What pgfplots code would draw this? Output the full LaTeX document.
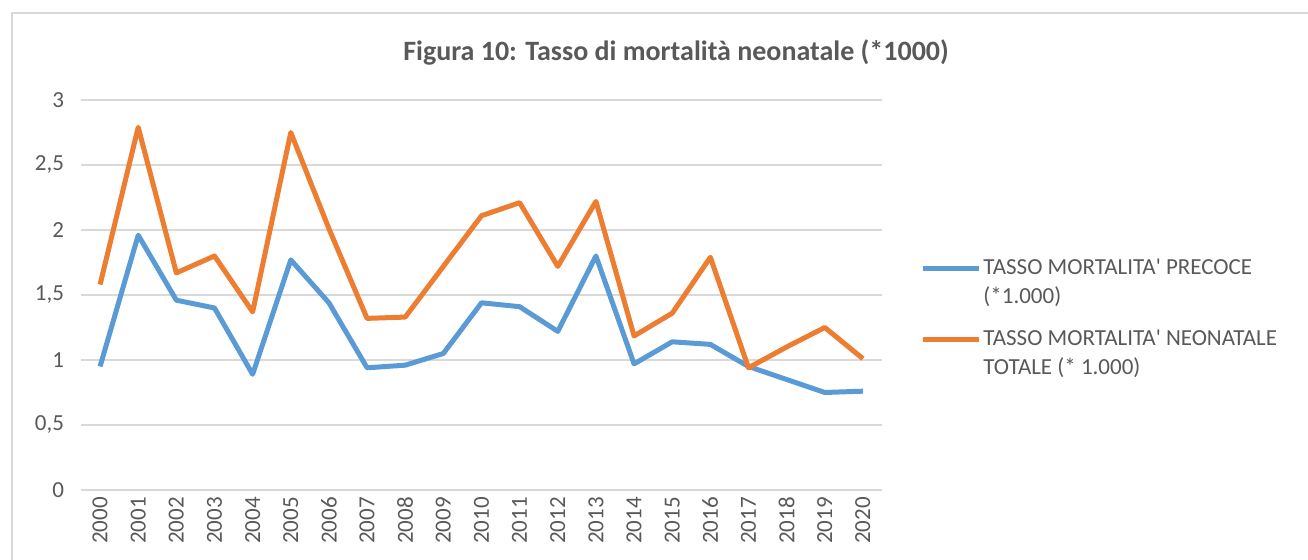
\documentclass[border=0pt]{standalone}
\usepackage{fontspec}
\setmainfont{Carlito}
\usepackage{pgfplots}
\pgfplotsset{compat=1.18}
\definecolor{xlblue}{RGB}{91,155,213}
\definecolor{xlorange}{RGB}{237,125,49}
\definecolor{xlgrid}{RGB}{217,217,217}
\definecolor{xltext}{RGB}{89,89,89}

\begin{document}
\begin{tikzpicture}
% picture frame: 1308x560 px at 0.5pt per px
\useasboundingbox (0pt,0pt) rectangle (654pt,280pt);
\draw[xlgrid, line width=0.6pt] (6pt,0pt) -- (6pt,273.5pt) -- (654pt,273.5pt);
\node[font=\bfseries\fontsize{14}{16}\selectfont, text=xltext] at (338pt,254pt) {Figura 10: Tasso di mortalità neonatale (*1000)};
\begin{axis}[
  at={(40.5pt,35pt)}, anchor=south west,
  scale only axis,
  width=400.5pt, height=195pt,
  xmin=1999.5, xmax=2020.5,
  ymin=0, ymax=3,
  xtick={2000,...,2020},
  ytick={0,0.5,...,3},
  /pgf/number format/assume math mode=true,
  xticklabel style={/pgf/number format/1000 sep={}, rotate=90, anchor=east, font=\fontsize{11.5}{13}\selectfont, text=xltext},
  yticklabel style={/pgf/number format/use comma, font=\fontsize{11.5}{13}\selectfont, text=xltext, xshift=-5pt},
  major tick length=0pt,
  axis line style={draw=none},
  ymajorgrids,
  grid style={xlgrid, line width=0.6pt},
  legend style={at={(1.04,0.615)}, anchor=north west, draw=none, fill=none,
    font=\fontsize{11.5}{14.5}\selectfont, text=xltext,
    nodes={align=left, inner xsep=1pt}, row sep=8pt},
  legend cell align=left,
  legend image code/.code={\draw[#1] (0pt,7pt) -- (28pt,7pt);},
]
\addplot[color=xlblue, line width=2.5pt, line join=round, mark=none] coordinates {
  (2000,0.95) (2001,1.96) (2002,1.46) (2003,1.40) (2004,0.89) (2005,1.77)
  (2006,1.44) (2007,0.94) (2008,0.96) (2009,1.05) (2010,1.44) (2011,1.41)
  (2012,1.22) (2013,1.80) (2014,0.97) (2015,1.14) (2016,1.12) (2017,0.95)
  (2018,0.85) (2019,0.75) (2020,0.76)
};
\addlegendentry{TASSO MORTALITA\textquotesingle{} PRECOCE\\(*1.000)}
\addplot[color=xlorange, line width=2.5pt, line join=round, mark=none] coordinates {
  (2000,1.58) (2001,2.79) (2002,1.67) (2003,1.80) (2004,1.37) (2005,2.75)
  (2006,2.01) (2007,1.32) (2008,1.33) (2009,1.72) (2010,2.11) (2011,2.21)
  (2012,1.72) (2013,2.22) (2014,1.185) (2015,1.36) (2016,1.79) (2017,0.94)
  (2018,1.10) (2019,1.25) (2020,1.01)
};
\addlegendentry{TASSO MORTALITA\textquotesingle{} NEONATALE\\TOTALE (* 1.000)}
\end{axis}
\end{tikzpicture}
\end{document}
